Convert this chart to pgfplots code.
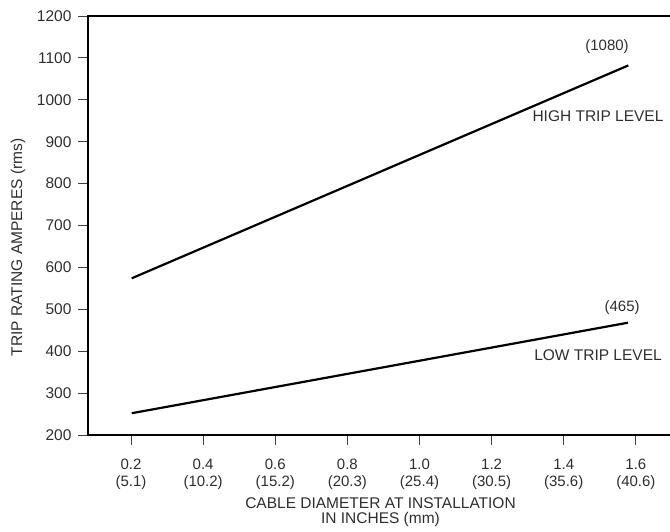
\documentclass[border=0pt]{standalone}
\usepackage{fontspec}
\setmainfont{Liberation Sans}
\usepackage{pgfplots}
\pgfplotsset{compat=1.18}
\definecolor{txt}{HTML}{2E2E2E}
\begin{document}
\begin{tikzpicture}
\path[use as bounding box] (-88pt,-96pt) rectangle (582pt,435pt);
\begin{axis}[
  at={(0,0)}, anchor=south west,
  scale only axis, width=585pt, height=419pt,
  xmin=0.0807, xmax=1.703, ymin=200, ymax=1200,
  axis line style={line width=2.2pt, black},
  tick align=outside, major tick length=10pt,
  xtick pos=lower, ytick pos=left,
  tick style={line width=0.9pt, black!75},
  xtick={0.2,0.4,0.6,0.8,1.0,1.2,1.4,1.6},
  xticklabels={{0.2\\(5.1)},{0.4\\(10.2)},{0.6\\(15.2)},{0.8\\(20.3)},{1.0\\(25.4)},{1.2\\(30.5)},{1.4\\(35.6)},{1.6\\(40.6)}},
  ytick={200,300,400,500,600,700,800,900,1000,1100,1200},
  yticklabels={200,300,400,500,600,700,800,900,1000,1100,1200},
  xticklabel style={align=center, anchor=center, yshift=-29pt, font=\fontsize{15}{17}\selectfont, text=txt},
  yticklabel style={font=\fontsize{15.5}{15}\selectfont, text=txt, xshift=-3pt},
  xlabel={CABLE DIAMETER AT INSTALLATION\\IN INCHES (mm)},
  xlabel style={at={(axis description cs:0.5,0)}, anchor=center, yshift=-77pt, align=center, font=\fontsize{15.5}{15.5}\selectfont, text=txt},
  ylabel={TRIP RATING AMPERES (rms)},
  ylabel style={at={(axis description cs:0,0.4475)}, anchor=center, yshift=70pt, font=\fontsize{15.5}{16}\selectfont, text=txt},
]
\addplot[black, line width=2.2pt] coordinates {(0.202,574) (1.579,1082)};
\addplot[black, line width=2.2pt] coordinates {(0.202,252) (1.578,468)};
\node[text=txt, font=\fontsize{15}{15}\selectfont] at (axis cs:1.52,1126) {(1080)};
\node[text=txt, font=\fontsize{15.5}{16}\selectfont] at (axis cs:1.495,961) {HIGH TRIP LEVEL};
\node[text=txt, font=\fontsize{15}{15}\selectfont] at (axis cs:1.562,503) {(465)};
\node[text=txt, font=\fontsize{15.5}{16}\selectfont] at (axis cs:1.495,391) {LOW TRIP LEVEL};
\end{axis}
\end{tikzpicture}
\end{document}
